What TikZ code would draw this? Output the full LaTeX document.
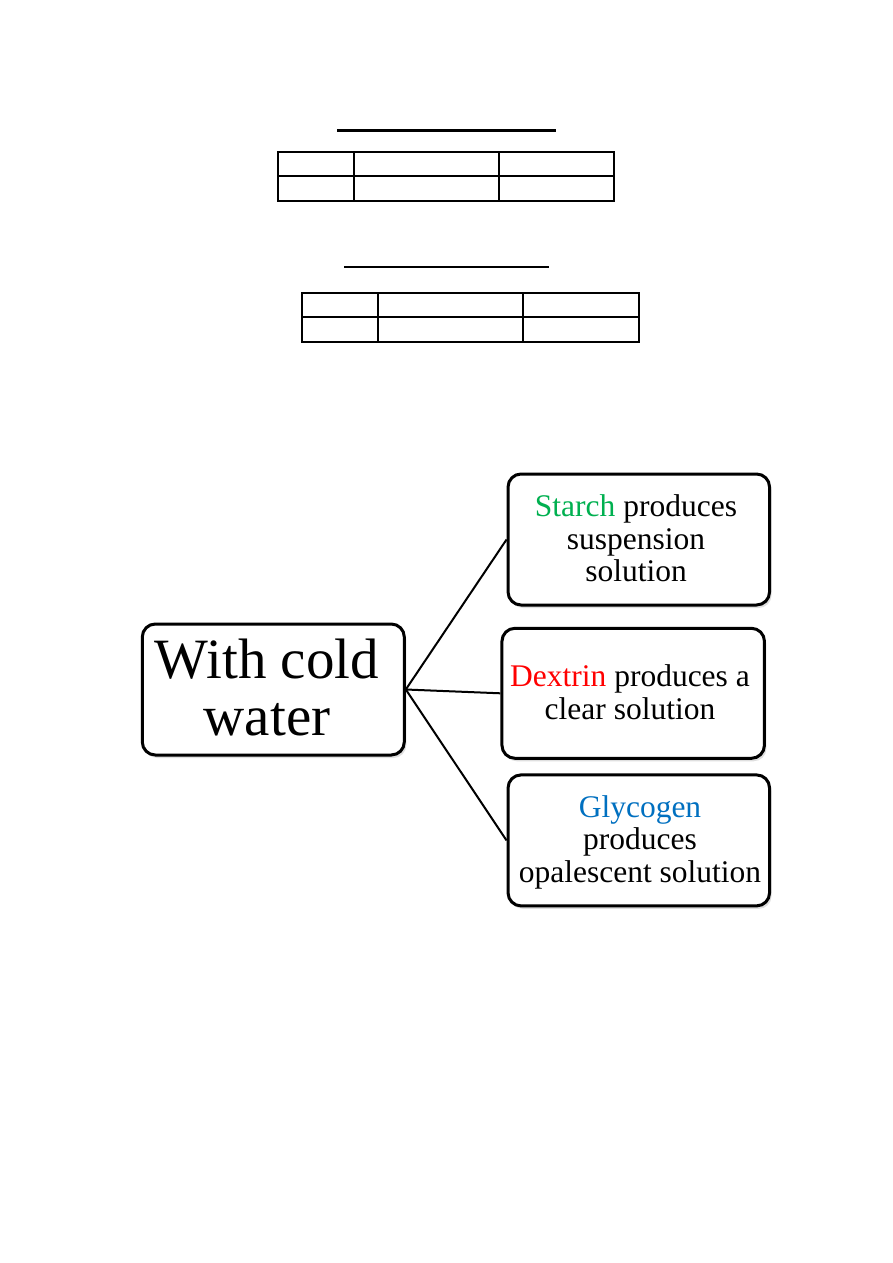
\documentclass[tikz,border=0pt]{standalone}
\usepackage{fontspec}
\setmainfont{Liberation Serif}
\usetikzlibrary{shadows}
\definecolor{stgreen}{HTML}{00B050}
\definecolor{dxred}{HTML}{FF0000}
\definecolor{glblue}{HTML}{0070C0}
\begin{document}
\begin{tikzpicture}[x=1pt,y=-1pt,
  box/.style={draw=black, line width=3pt, rounded corners=13pt, fill=white,
    inner sep=0pt, drop shadow={shadow xshift=2pt, shadow yshift=-3pt, opacity=0.25}},
  small/.style={font=\fontsize{31.5}{32.5}\selectfont, align=center, inner sep=0pt},
  big/.style={font=\fontsize{57}{57}\selectfont, align=center, inner sep=0pt},
  tab/.style={line width=1.8pt},
  uline/.style={line width=2.2pt},
  conn/.style={line width=2pt}]
\useasboundingbox[fill=white] (0,0) rectangle (893,1263);

% table 1
\draw[uline] (337,130.5) -- (555.5,130.5);
\draw[tab] (278.3,151.7) rectangle (614.3,201);
\draw[tab] (278.3,176.3) -- (614.3,176.3);
\draw[tab] (354.3,151.7) -- (354.3,201);
\draw[tab] (499.3,151.7) -- (499.3,201);

% table 2
\draw[uline] (344,266.7) -- (548.7,266.7);
\draw[tab] (302.3,292.7) rectangle (638.7,342);
\draw[tab] (302.3,317.3) -- (638.7,317.3);
\draw[tab] (378.3,292.7) -- (378.3,342);
\draw[tab] (523.3,292.7) -- (523.3,342);

% boxes
\node[box, minimum width=262pt, minimum height=131pt] (main) at (273.3,689.5) {};
\node[box, minimum width=261.5pt, minimum height=131pt] (starch) at (638.8,539.5) {};
\node[box, minimum width=262.5pt, minimum height=130pt] (dextrin) at (633.2,693.3) {};
\node[box, minimum width=261.5pt, minimum height=131pt] (glyco) at (638.8,840.4) {};

% texts
\node[big] (mainT) at (267,687) {With cold\\water};
\node[small] (starchT) at (636,538.5) {\textcolor{stgreen}{Starch} produces\\suspension\\solution};
\node[small] (dextrinT) at (630,692.3) {\textcolor{dxred}{Dextrin} produces a\\clear solution};
\node[small] (glycoT) at (640,842) {\textcolor{glblue}{Glycogen}\\produces\\opalescent solution};

% connectors
\draw[conn] (main.east) -- (starch.west);
\draw[conn] (main.east) -- (dextrin.west);
\draw[conn] (main.east) -- (glyco.west);
\end{tikzpicture}
\end{document}
